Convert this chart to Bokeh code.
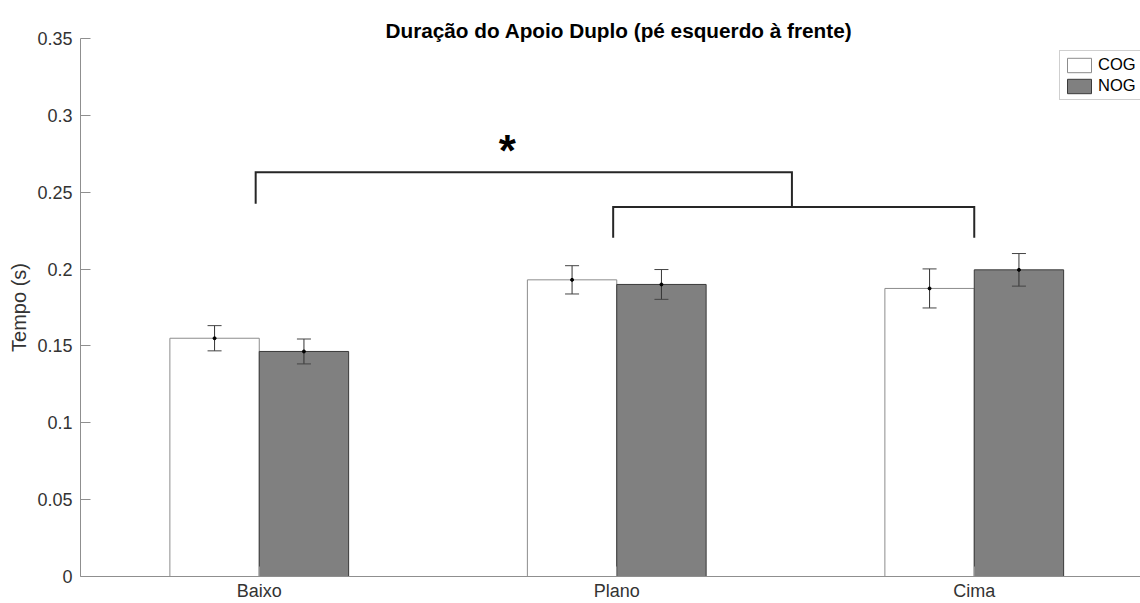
from bokeh.plotting import figure
from bokeh.models import Range1d, FixedTicker, Legend, LegendItem, Title
from bokeh.core.properties import value
from bokeh.embed import file_html
from bokeh.resources import INLINE

# Mean double-support duration (s) and standard error per terrain condition
categories = ["Baixo", "Plano", "Cima"]
cog_mean = [0.155, 0.193, 0.1874]
cog_err = [0.0082, 0.0092, 0.0127]
nog_mean = [0.1464, 0.190, 0.1995]
nog_err = [0.0081, 0.0097, 0.0106]

y_ticks = [0, 0.05, 0.1, 0.15, 0.2, 0.25, 0.3, 0.35]
y_tick_labels = ["0", "0.05", "0.1", "0.15", "0.2", "0.25", "0.3", "0.35"]

# Significance brackets: x of both legs, height of the bar, ends of each leg
outer_bracket_x = [0.99, 0.99, 2.49, 2.49]
outer_bracket_y = [0.2425, 0.263, 0.263, 0.2403]
inner_bracket_x = [1.99, 1.99, 3.0, 3.0]
inner_bracket_y = [0.2203, 0.2403, 0.2403, 0.2203]
star_x, star_y = 1.694, 0.2770

FONT = "Liberation Sans"
BAR_W = 0.25
CAP = 0.0196

pos = [i + 1 for i in range(len(categories))]
cog_x = [x - BAR_W / 2 for x in pos]
nog_x = [x + BAR_W / 2 for x in pos]

p = figure(width=1140, height=603, output_backend="svg", toolbar_location=None,
           x_range=Range1d(0.5, 0.5 + 1060 / 357.5), y_range=Range1d(0, 0.35),
           min_border_left=80, min_border_right=0, min_border_top=38,
           min_border_bottom=27)
p.outline_line_color = None
p.xgrid.visible = False
p.ygrid.visible = False
p.background_fill_color = "white"
p.border_fill_color = "white"

p.title = Title(text="Duração do Apoio Duplo (pé esquerdo à frente)", align="left",
                offset=305, standoff=-6, text_font=FONT, text_font_style="bold",
                text_font_size="20.75px", text_color="black")

cog = p.vbar(x=cog_x, top=cog_mean, width=BAR_W, fill_color="white",
             line_color="#8c8c8c", line_width=1)
nog = p.vbar(x=nog_x, top=nog_mean, width=BAR_W, fill_color="#808080",
             line_color="#3a3a3a", line_width=1)

# error bars with caps and a dot on each mean
for xs, m, e in ((cog_x, cog_mean, cog_err), (nog_x, nog_mean, nog_err)):
    lo = [a - b for a, b in zip(m, e)]
    hi = [a + b for a, b in zip(m, e)]
    p.segment(x0=xs, y0=lo, x1=xs, y1=hi, line_color="#333333", line_width=1)
    p.segment(x0=[x - CAP for x in xs], y0=lo, x1=[x + CAP for x in xs], y1=lo,
              line_color="#444444", line_width=1)
    p.segment(x0=[x - CAP for x in xs], y0=hi, x1=[x + CAP for x in xs], y1=hi,
              line_color="#444444", line_width=1)
    p.scatter(x=xs, y=m, size=3, color="black")

p.line(outer_bracket_x, outer_bracket_y, line_color="#262626", line_width=2,
       line_join="miter")
p.line(inner_bracket_x, inner_bracket_y, line_color="#262626", line_width=2,
       line_join="miter")
p.text(x=[star_x], y=[star_y], text=["*"], text_font=value(FONT),
       text_font_style="bold", text_font_size="44px", text_align="center",
       text_baseline="alphabetic", text_color="black")

axis_color = "#8f8f8f"
for ax in (p.xaxis[0], p.yaxis[0]):
    ax.axis_line_color = axis_color
    ax.major_tick_line_color = axis_color
    ax.minor_tick_line_color = None
    ax.major_tick_in = 10
    ax.major_tick_out = 0
    ax.major_label_text_font = FONT
    ax.major_label_text_font_size = "18px"
    ax.major_label_text_color = "#333333"

p.xaxis.ticker = FixedTicker(ticks=pos)
p.xaxis.major_label_overrides = {x: c for x, c in zip(pos, categories)}
p.xaxis.major_label_standoff = 4

p.yaxis.ticker = FixedTicker(ticks=y_ticks)
p.yaxis.major_label_overrides = {t: s for t, s in zip(y_ticks, y_tick_labels)}
p.yaxis.major_label_standoff = 8
p.yaxis.axis_label = "Tempo (s)"
p.yaxis.axis_label_text_font = FONT
p.yaxis.axis_label_text_font_size = "20px"
p.yaxis.axis_label_text_font_style = "normal"
p.yaxis.axis_label_text_color = "#333333"
p.yaxis.axis_label_standoff = 4

legend = Legend(items=[LegendItem(label="COG", renderers=[cog]),
                       LegendItem(label="NOG", renderers=[nog])],
                location=(979, 476), margin=0, padding=4, spacing=2,
                glyph_width=30, glyph_height=18, label_height=18,
                label_standoff=4, label_text_font=FONT,
                label_text_font_size="16.5px", label_text_color="black",
                border_line_color="#a0a0a0", border_line_width=1,
                background_fill_color="white", background_fill_alpha=1)
p.add_layout(legend)

open("out.html", "w").write(file_html(p, INLINE))
